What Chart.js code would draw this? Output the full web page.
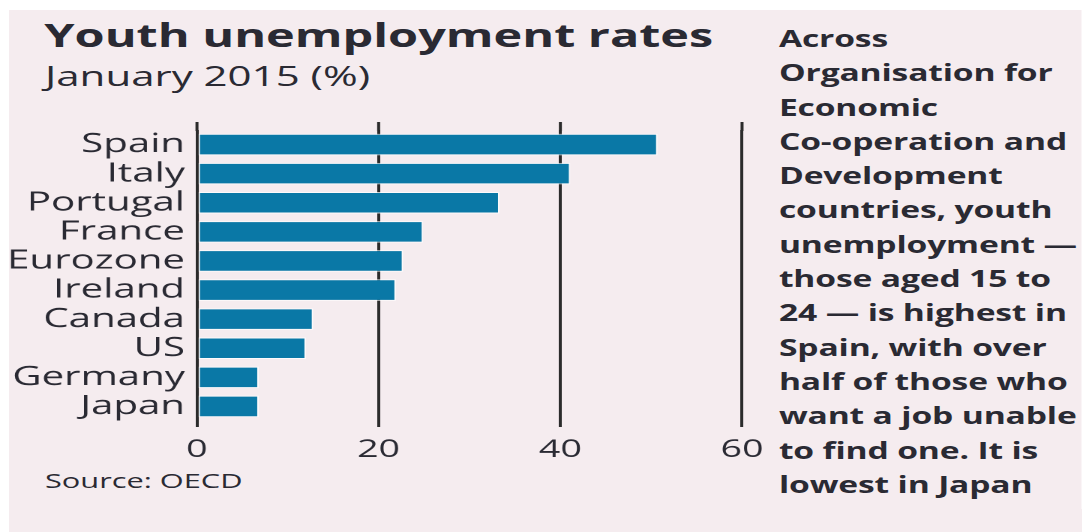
<!DOCTYPE html>
<html>
<head>
<meta charset="utf-8">
<script src="https://cdn.jsdelivr.net/npm/chart.js@4.4.1/dist/chart.umd.min.js"></script>
<style>
  html, body { margin: 0; padding: 0; background: #ffffff; }
  body { width: 1082px; height: 532px; overflow: hidden; position: relative; }
  /* The graphic is laid out in a narrow frame and widened horizontally */
  #frame {
    position: absolute; left: 0; top: 0;
    width: 721.33px; height: 532px;
    transform: scaleX(1.5); transform-origin: 0 0;
    font-family: "Open Sans", sans-serif; color: #2a2a33;
  }
  #panel { position: absolute; left: 6px; top: 10px; right: 0; bottom: 0; background: #f5ecef; }
  .txt { position: absolute; white-space: nowrap; }
  #title { left: 29.5px; top: 18px; font-size: 32.4px; line-height: 32.4px; font-weight: 700; }
  #subtitle { left: 30px; top: 61px; font-size: 28px; line-height: 28px; font-weight: 500; }
  #source { left: 30px; top: 470px; font-size: 20.5px; line-height: 20.5px; font-weight: 500; }
  #note { left: 519.3px; top: 22px; font-size: 22.4px; line-height: 34.3px; font-weight: 700; letter-spacing: -0.1px; }
  #chartbox { position: absolute; left: 0; top: 100px; width: 540px; height: 380px; }
</style>
</head>
<body>
<div id="frame">
  <div id="panel"></div>
  <div id="title" class="txt">Youth unemployment rates</div>
  <div id="subtitle" class="txt">January 2015 (%)</div>
  <div id="source" class="txt">Source: OECD</div>
  <div id="note" class="txt">Across<br>Organisation for<br>Economic<br>Co-operation and<br>Development<br>countries, youth<br>unemployment —<br>those aged 15 to<br>24 — is highest in<br>Spain, with over<br>half of those who<br>want a job unable<br>to find one. It is<br>lowest in Japan</div>
  <div id="chartbox"><canvas id="chart"></canvas></div>
</div>
<script>
// Youth unemployment, January 2015 (%)
const countries = ["Spain", "Italy", "Portugal", "France", "Eurozone", "Ireland", "Canada", "US", "Germany", "Japan"];
const rates = [50.7, 41.1, 33.3, 24.9, 22.7, 21.9, 12.8, 12.0, 6.8, 6.8];
const axisTicks = [0, 20, 40, 60];

const ink = "#2a2a33";
const gridInk = "#2b2b2b";

// Gridlines poke a few pixels above the top bar
const gridCaps = {
  id: "gridCaps",
  beforeDatasetsDraw(chart) {
    const { ctx, chartArea, scales } = chart;
    ctx.save();
    ctx.strokeStyle = gridInk;
    ctx.lineWidth = 2;
    axisTicks.forEach(v => {
      const x = scales.x.getPixelForValue(v);
      ctx.beginPath();
      ctx.moveTo(x, chartArea.top - 8);
      ctx.lineTo(x, chartArea.top + 1);
      ctx.stroke();
    });
    ctx.restore();
  }
};

new Chart(document.getElementById("chart"), {
  type: "bar",
  data: {
    labels: countries,
    datasets: [{
      data: rates,
      backgroundColor: "#0a78a6",
      borderColor: "rgba(255,255,255,0.75)",
      borderWidth: 1,
      borderSkipped: false,
      barPercentage: 0.74,
      categoryPercentage: 1.0
    }]
  },
  options: {
    indexAxis: "y",
    responsive: true,
    maintainAspectRatio: false,
    devicePixelRatio: 2,
    animation: false,
    layout: { padding: { top: 30, right: 45.3, bottom: 0, left: 0 } },
    plugins: { legend: { display: false }, tooltip: { enabled: false } },
    scales: {
      x: {
        min: 0, max: 60,
        afterBuildTicks(scale) { scale.ticks = axisTicks.map(v => ({ value: v })); },
        afterFit(scale) { scale.height = 59; },
        grid: { color: gridInk, lineWidth: 2, tickLength: 6, drawTicks: true },
        border: { display: false },
        ticks: { color: ink, padding: 8, font: { family: "Open Sans", size: 25, weight: 500 } }
      },
      y: {
        afterFit(scale) { scale.width = 131.3; },
        grid: { display: false, drawTicks: false },
        border: { display: false },
        ticks: { color: ink, padding: 8, autoSkip: false, font: { family: "Open Sans", size: 26.8, weight: 500 } }
      }
    }
  },
  plugins: [gridCaps]
});
</script>
</body>
</html>
